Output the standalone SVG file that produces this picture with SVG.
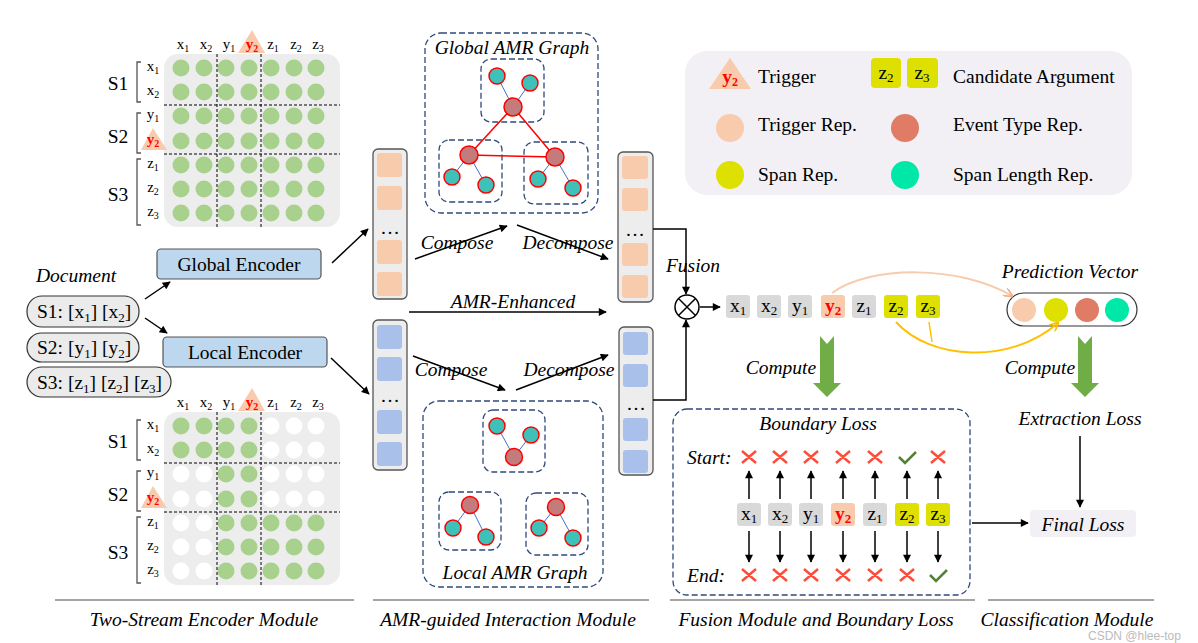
<svg xmlns="http://www.w3.org/2000/svg" width="1198" height="643" viewBox="0 0 1198 643" font-family="'Liberation Serif', 'DejaVu Serif', serif">
<defs>
<style>
text{font-family:'Liberation Serif','DejaVu Serif',serif;fill:#000;font-size:19.5px}
.it{font-style:italic}
.m{text-anchor:middle}
.lb{font-size:15px}
.g{fill:#A9D18E}
.w{fill:#FFFFFF}
.mbg{fill:#EDEDED}
.dash{stroke:#000;stroke-width:1;stroke-dasharray:3 2;fill:none}
.br{fill:none;stroke:#555;stroke-width:1.3}
.col{fill:#EDEDED;stroke:#555;stroke-width:1.3}
.or{fill:#F8CBAD}
.bl{fill:#A9C1EA}
.box{fill:none;stroke:#2F4A7A;stroke-width:1.3;stroke-dasharray:6 3}
.tn{fill:#3EC1B9;stroke:#FF0000;stroke-width:1.5}
.ev{fill:#C47B7B;stroke:#FF0000;stroke-width:1.5}
.re{stroke:#FF0000;stroke-width:1.5}
.be{stroke:#4472C4;stroke-width:1}
.ar{stroke:#000;stroke-width:1.5;fill:none;marker-end:url(#ah)}
.tok{fill:#D9D9D9}
.tokY{fill:#DDE000}
.tokO{fill:#F8CBAD}
.x{stroke:#FF4B3A;stroke-width:2.5;fill:none}
.ck{stroke:#548235;stroke-width:2.5;fill:none}
.tri{fill:#F8CBAD}
.red{fill:#FF0000;font-weight:bold}
.enc{fill:#BDD7EE;stroke:#555;stroke-width:1.2}
.pill{fill:#EBEBEB;stroke:#333;stroke-width:1.2}
.sep{stroke:#888;stroke-width:1.5}
.grn{fill:#70AD47}
</style>
<marker id="ah" viewBox="0 0 10 10" refX="9" refY="5" markerWidth="10" markerHeight="8" orient="auto" markerUnits="userSpaceOnUse"><path d="M0,0 L10,5 L0,10 z" fill="#000"/></marker>
<marker id="ahp" viewBox="0 0 10 10" refX="9" refY="5" markerWidth="10" markerHeight="9" orient="auto" markerUnits="userSpaceOnUse"><path d="M0,0 L10,5 L0,10" fill="none" stroke="#F4B183" stroke-width="2"/></marker>
<marker id="aho" viewBox="0 0 10 10" refX="9" refY="5" markerWidth="10" markerHeight="9" orient="auto" markerUnits="userSpaceOnUse"><path d="M0,0 L10,5 L0,10" fill="none" stroke="#FFC000" stroke-width="2"/></marker>
</defs>
<rect width="1198" height="643" fill="#FFFFFF"/>

<!-- Top matrix -->
<g id="matrix-global">
<rect class="mbg" x="164" y="54" width="176" height="173" rx="14"/>
<g class="g">
<circle cx="181" cy="68" r="8.5"/><circle cx="204" cy="68" r="8.5"/><circle cx="226" cy="68" r="8.5"/><circle cx="249" cy="68" r="8.5"/><circle cx="271" cy="68" r="8.5"/><circle cx="294" cy="68" r="8.5"/><circle cx="316" cy="68" r="8.5"/>
<circle cx="181" cy="92" r="8.5"/><circle cx="204" cy="92" r="8.5"/><circle cx="226" cy="92" r="8.5"/><circle cx="249" cy="92" r="8.5"/><circle cx="271" cy="92" r="8.5"/><circle cx="294" cy="92" r="8.5"/><circle cx="316" cy="92" r="8.5"/>
<circle cx="181" cy="116" r="8.5"/><circle cx="204" cy="116" r="8.5"/><circle cx="226" cy="116" r="8.5"/><circle cx="249" cy="116" r="8.5"/><circle cx="271" cy="116" r="8.5"/><circle cx="294" cy="116" r="8.5"/><circle cx="316" cy="116" r="8.5"/>
<circle cx="181" cy="141" r="8.5"/><circle cx="204" cy="141" r="8.5"/><circle cx="226" cy="141" r="8.5"/><circle cx="249" cy="141" r="8.5"/><circle cx="271" cy="141" r="8.5"/><circle cx="294" cy="141" r="8.5"/><circle cx="316" cy="141" r="8.5"/>
<circle cx="181" cy="165" r="8.5"/><circle cx="204" cy="165" r="8.5"/><circle cx="226" cy="165" r="8.5"/><circle cx="249" cy="165" r="8.5"/><circle cx="271" cy="165" r="8.5"/><circle cx="294" cy="165" r="8.5"/><circle cx="316" cy="165" r="8.5"/>
<circle cx="181" cy="189" r="8.5"/><circle cx="204" cy="189" r="8.5"/><circle cx="226" cy="189" r="8.5"/><circle cx="249" cy="189" r="8.5"/><circle cx="271" cy="189" r="8.5"/><circle cx="294" cy="189" r="8.5"/><circle cx="316" cy="189" r="8.5"/>
<circle cx="181" cy="213" r="8.5"/><circle cx="204" cy="213" r="8.5"/><circle cx="226" cy="213" r="8.5"/><circle cx="249" cy="213" r="8.5"/><circle cx="271" cy="213" r="8.5"/><circle cx="294" cy="213" r="8.5"/><circle cx="316" cy="213" r="8.5"/>
</g>
<path class="dash" d="M217,54 V228 M261,54 V228 M164,105 H340 M164,154 H340"/>
<polygon class="tri" points="238,53 252,30 265,53"/>
<polygon class="tri" points="141,150 153,128 167,150"/>
<text class="m lb" x="183" y="49">x<tspan font-size="10" dy="3">1</tspan></text>
<text class="m lb" x="206" y="49">x<tspan font-size="10" dy="3">2</tspan></text>
<text class="m lb" x="229" y="49">y<tspan font-size="10" dy="3">1</tspan></text>
<text class="m lb red" x="252" y="49">y<tspan font-size="10" dy="3">2</tspan></text>
<text class="m lb" x="273" y="49">z<tspan font-size="10" dy="3">1</tspan></text>
<text class="m lb" x="296" y="49">z<tspan font-size="10" dy="3">2</tspan></text>
<text class="m lb" x="318" y="49">z<tspan font-size="10" dy="3">3</tspan></text>
<text class="m lb" x="153" y="71">x<tspan font-size="10" dy="3">1</tspan></text>
<text class="m lb" x="153" y="95">x<tspan font-size="10" dy="3">2</tspan></text>
<text class="m lb" x="153" y="119">y<tspan font-size="10" dy="3">1</tspan></text>
<text class="m lb red" x="153" y="144">y<tspan font-size="10" dy="3">2</tspan></text>
<text class="m lb" x="153" y="168">z<tspan font-size="10" dy="3">1</tspan></text>
<text class="m lb" x="153" y="192">z<tspan font-size="10" dy="3">2</tspan></text>
<text class="m lb" x="153" y="216">z<tspan font-size="10" dy="3">3</tspan></text>
<path class="br" d="M141,62 H137 V102 H141 M141,113 H137 V153 H141 M141,159 H137 V225 H141"/>
<text class="m" x="118" y="90" font-size="21">S1</text>
<text class="m" x="118" y="143" font-size="21">S2</text>
<text class="m" x="118" y="201" font-size="21">S3</text>
</g>

<!-- Bottom matrix -->
<g id="matrix-local">
<rect class="mbg" x="164" y="412" width="176" height="173" rx="14"/>
<g class="g">
<circle cx="181" cy="426" r="8.5"/><circle cx="204" cy="426" r="8.5"/><circle cx="226" cy="426" r="8.5"/><circle cx="249" cy="426" r="8.5"/>
<circle cx="181" cy="450" r="8.5"/><circle cx="204" cy="450" r="8.5"/><circle cx="226" cy="450" r="8.5"/><circle cx="249" cy="450" r="8.5"/>
<circle cx="226" cy="474" r="8.5"/><circle cx="249" cy="474" r="8.5"/>
<circle cx="226" cy="499" r="8.5"/><circle cx="249" cy="499" r="8.5"/>
<circle cx="226" cy="523" r="8.5"/><circle cx="249" cy="523" r="8.5"/><circle cx="271" cy="523" r="8.5"/><circle cx="294" cy="523" r="8.5"/><circle cx="316" cy="523" r="8.5"/>
<circle cx="226" cy="547" r="8.5"/><circle cx="249" cy="547" r="8.5"/><circle cx="271" cy="547" r="8.5"/><circle cx="294" cy="547" r="8.5"/><circle cx="316" cy="547" r="8.5"/>
<circle cx="226" cy="571" r="8.5"/><circle cx="249" cy="571" r="8.5"/><circle cx="271" cy="571" r="8.5"/><circle cx="294" cy="571" r="8.5"/><circle cx="316" cy="571" r="8.5"/>
</g>
<g class="w">
<circle cx="271" cy="426" r="8.5"/><circle cx="294" cy="426" r="8.5"/><circle cx="316" cy="426" r="8.5"/>
<circle cx="271" cy="450" r="8.5"/><circle cx="294" cy="450" r="8.5"/><circle cx="316" cy="450" r="8.5"/>
<circle cx="181" cy="474" r="8.5"/><circle cx="204" cy="474" r="8.5"/><circle cx="271" cy="474" r="8.5"/><circle cx="294" cy="474" r="8.5"/><circle cx="316" cy="474" r="8.5"/>
<circle cx="181" cy="499" r="8.5"/><circle cx="204" cy="499" r="8.5"/><circle cx="271" cy="499" r="8.5"/><circle cx="294" cy="499" r="8.5"/><circle cx="316" cy="499" r="8.5"/>
<circle cx="181" cy="523" r="8.5"/><circle cx="204" cy="523" r="8.5"/>
<circle cx="181" cy="547" r="8.5"/><circle cx="204" cy="547" r="8.5"/>
<circle cx="181" cy="571" r="8.5"/><circle cx="204" cy="571" r="8.5"/>
</g>
<path class="dash" d="M217,412 V586 M261,412 V586 M164,463 H340 M164,512 H340"/>
<polygon class="tri" points="238,411 252,388 265,411"/>
<polygon class="tri" points="141,508 153,486 167,508"/>
<text class="m lb" x="183" y="407">x<tspan font-size="10" dy="3">1</tspan></text>
<text class="m lb" x="206" y="407">x<tspan font-size="10" dy="3">2</tspan></text>
<text class="m lb" x="229" y="407">y<tspan font-size="10" dy="3">1</tspan></text>
<text class="m lb red" x="252" y="407">y<tspan font-size="10" dy="3">2</tspan></text>
<text class="m lb" x="273" y="407">z<tspan font-size="10" dy="3">1</tspan></text>
<text class="m lb" x="296" y="407">z<tspan font-size="10" dy="3">2</tspan></text>
<text class="m lb" x="318" y="407">z<tspan font-size="10" dy="3">3</tspan></text>
<text class="m lb" x="153" y="429">x<tspan font-size="10" dy="3">1</tspan></text>
<text class="m lb" x="153" y="453">x<tspan font-size="10" dy="3">2</tspan></text>
<text class="m lb" x="153" y="477">y<tspan font-size="10" dy="3">1</tspan></text>
<text class="m lb red" x="153" y="502">y<tspan font-size="10" dy="3">2</tspan></text>
<text class="m lb" x="153" y="526">z<tspan font-size="10" dy="3">1</tspan></text>
<text class="m lb" x="153" y="550">z<tspan font-size="10" dy="3">2</tspan></text>
<text class="m lb" x="153" y="574">z<tspan font-size="10" dy="3">3</tspan></text>
<path class="br" d="M141,420 H137 V460 H141 M141,471 H137 V511 H141 M141,517 H137 V583 H141"/>
<text class="m" x="118" y="448" font-size="21">S1</text>
<text class="m" x="118" y="501" font-size="21">S2</text>
<text class="m" x="118" y="559" font-size="21">S3</text>
</g>

<!-- Document -->
<g id="document">
<text class="it" x="36" y="282">Document</text>
<rect class="pill" x="27" y="296" width="112" height="31" rx="15"/>
<text x="37" y="318">S1: [x<tspan font-size="13" dy="4">1</tspan><tspan dy="-4">] [x</tspan><tspan font-size="13" dy="4">2</tspan><tspan dy="-4">]</tspan></text>
<rect class="pill" x="27" y="333" width="112" height="29" rx="14.5"/>
<text x="37" y="354">S2: [y<tspan font-size="13" dy="4">1</tspan><tspan dy="-4">] [y</tspan><tspan font-size="13" dy="4">2</tspan><tspan dy="-4">]</tspan></text>
<rect class="pill" x="27" y="367" width="144" height="30" rx="15"/>
<text x="37" y="389">S3: [z<tspan font-size="13" dy="4">1</tspan><tspan dy="-4">] [z</tspan><tspan font-size="13" dy="4">2</tspan><tspan dy="-4">] [z</tspan><tspan font-size="13" dy="4">3</tspan><tspan dy="-4">]</tspan></text>
</g>

<g id="global-encoder">
<rect class="enc" x="157" y="249" width="164" height="30" rx="4"/>
<text class="m" x="239" y="271">Global Encoder</text>
</g>
<g id="local-encoder">
<rect class="enc" x="163" y="337" width="164" height="30" rx="4"/>
<text class="m" x="245" y="359">Local Encoder</text>
</g>

<!-- Vector columns -->
<g id="col-global-in">
<rect class="col" x="373" y="149" width="34" height="150" rx="5"/>
<g class="or"><rect x="377" y="153" width="25" height="24" rx="3"/><rect x="377" y="186" width="25" height="24" rx="3"/><rect x="377" y="240" width="25" height="24" rx="3"/><rect x="377" y="272" width="25" height="24" rx="3"/></g>
<text class="m" x="390" y="234">…</text>
</g>
<g id="col-local-in">
<rect class="col" x="373" y="320" width="34" height="150" rx="5"/>
<g class="bl"><rect x="377" y="325" width="25" height="24" rx="3"/><rect x="377" y="357" width="25" height="24" rx="3"/><rect x="377" y="410" width="25" height="24" rx="3"/><rect x="377" y="442" width="25" height="24" rx="3"/></g>
<text class="m" x="390" y="402">…</text>
</g>
<g id="col-global-out">
<rect class="col" x="618" y="152" width="35" height="150" rx="5"/>
<g class="or"><rect x="622" y="156" width="26" height="23" rx="3"/><rect x="622" y="188" width="26" height="23" rx="3"/><rect x="622" y="243" width="26" height="23" rx="3"/><rect x="622" y="275" width="26" height="23" rx="3"/></g>
<text class="m" x="635" y="236">…</text>
</g>
<g id="col-local-out">
<rect class="col" x="619" y="327" width="34" height="148" rx="5"/>
<g class="bl"><rect x="623" y="332" width="25" height="23" rx="3"/><rect x="623" y="364" width="25" height="23" rx="3"/><rect x="623" y="418" width="25" height="23" rx="3"/><rect x="623" y="450" width="25" height="23" rx="3"/></g>
<text class="m" x="636" y="410">…</text>
</g>

<!-- Global AMR graph -->
<g id="global-amr">
<rect class="box" x="425" y="33" width="173" height="180" rx="16"/>
<text class="it m" x="512" y="54">Global AMR Graph</text>
<rect class="box" x="481" y="59" width="63" height="63" rx="10"/>
<rect class="box" x="439" y="140" width="63" height="62" rx="10"/>
<rect class="box" x="524" y="142" width="64" height="62" rx="10"/>
<path class="re" d="M513,107 L469,155 M513,107 L555,157 M469,155 L555,157"/>
<path class="be" d="M513,107 L497,76 M513,107 L530,83 M469,155 L452,177 M469,155 L486,185 M555,157 L538,179 M555,157 L573,188"/>
<circle class="tn" cx="497" cy="76" r="8"/><circle class="tn" cx="530" cy="83" r="8"/><circle class="ev" cx="513" cy="107" r="9"/>
<circle class="ev" cx="469" cy="155" r="9"/><circle class="tn" cx="452" cy="177" r="8"/><circle class="tn" cx="486" cy="185" r="8"/>
<circle class="ev" cx="555" cy="157" r="9"/><circle class="tn" cx="538" cy="179" r="8"/><circle class="tn" cx="573" cy="188" r="8"/>
</g>

<!-- Local AMR graph -->
<g id="local-amr">
<rect class="box" x="423" y="401" width="180" height="186" rx="16"/>
<text class="it m" x="515" y="579">Local AMR Graph</text>
<rect class="box" x="483" y="410" width="62" height="62" rx="10"/>
<rect class="box" x="439" y="492" width="62" height="58" rx="10"/>
<rect class="box" x="526" y="493" width="62" height="62" rx="10"/>
<path class="be" d="M514,457 L497,426 M514,457 L531,435 M470,505 L453,528 M470,505 L486,537 M556,507 L539,528 M556,507 L573,538"/>
<circle class="tn" cx="497" cy="426" r="8"/><circle class="tn" cx="531" cy="435" r="8"/><circle class="ev" cx="514" cy="457" r="8.5"/>
<circle class="ev" cx="470" cy="505" r="8.5"/><circle class="tn" cx="453" cy="528" r="8"/><circle class="tn" cx="486" cy="537" r="8"/>
<circle class="ev" cx="556" cy="507" r="8.5"/><circle class="tn" cx="539" cy="528" r="8"/><circle class="tn" cx="573" cy="538" r="8"/>
</g>

<!-- Fusion -->
<g id="fusion">
<circle cx="687" cy="307" r="12" fill="#FFFFFF" stroke="#000" stroke-width="1.5"/>
<path d="M678.5,298.5 L695.5,315.5 M695.5,298.5 L678.5,315.5" stroke="#000" stroke-width="1.5"/>
<text class="it m" x="693" y="272">Fusion</text>
</g>

<g id="tokens">
<rect class="tok" x="726" y="295" width="24" height="23" rx="3"/><text class="m" x="738" y="312">x<tspan font-size="13" dy="3">1</tspan></text>
<rect class="tok" x="757" y="295" width="24" height="23" rx="3"/><text class="m" x="769" y="312">x<tspan font-size="13" dy="3">2</tspan></text>
<rect class="tok" x="788" y="295" width="24" height="23" rx="3"/><text class="m" x="800" y="312">y<tspan font-size="13" dy="3">1</tspan></text>
<rect class="tokO" x="821" y="295" width="24" height="23" rx="3"/><text class="m red" x="833" y="312">y<tspan font-size="13" dy="3">2</tspan></text>
<rect class="tok" x="852" y="295" width="24" height="23" rx="3"/><text class="m" x="864" y="312">z<tspan font-size="13" dy="3">1</tspan></text>
<rect class="tokY" x="884" y="295" width="24" height="23" rx="3"/><text class="m" x="896" y="312">z<tspan font-size="13" dy="3">2</tspan></text>
<rect class="tokY" x="916" y="295" width="24" height="23" rx="3"/><text class="m" x="928" y="312">z<tspan font-size="13" dy="3">3</tspan></text>
</g>

<g id="prediction-vector">
<text class="it m" x="1070" y="278">Prediction Vector</text>
<rect x="1007" y="293" width="130" height="33" rx="16.5" fill="#FFFFFF" stroke="#333" stroke-width="1.2"/>
<circle cx="1024" cy="310" r="12" fill="#F8CBAD"/>
<circle cx="1056" cy="310" r="12" fill="#DDE000"/>
<circle cx="1087" cy="310" r="12" fill="#E07B65"/>
<circle cx="1117" cy="310" r="12" fill="#00E8A8"/>
</g>

<g id="compute-left">
<path class="grn" d="M820,336 L827,344 L834,336 V383 H841 L827,397 L813,383 H820 Z"/>
<text class="it m" x="781" y="374">Compute</text>
</g>
<g id="compute-right">
<path class="grn" d="M1078,336 L1085,344 L1092,336 V383 H1099 L1085,397 L1071,383 H1078 Z"/>
<text class="it m" x="1040" y="374">Compute</text>
</g>

<!-- Boundary loss -->
<g id="boundary-loss">
<rect class="box" x="673" y="409" width="297" height="186" rx="14"/>
<text class="it m" x="818" y="430">Boundary Loss</text>
<text class="it" x="687" y="464">Start:</text>
<text class="it" x="687" y="582">End:</text>
<rect class="tok" x="737" y="503" width="24" height="23" rx="3"/><text class="m" x="749" y="520">x<tspan font-size="13" dy="3">1</tspan></text>
<rect class="tok" x="768" y="503" width="24" height="23" rx="3"/><text class="m" x="780" y="520">x<tspan font-size="13" dy="3">2</tspan></text>
<rect class="tok" x="799" y="503" width="24" height="23" rx="3"/><text class="m" x="811" y="520">y<tspan font-size="13" dy="3">1</tspan></text>
<rect class="tokO" x="831" y="503" width="24" height="23" rx="3"/><text class="m red" x="843" y="520">y<tspan font-size="13" dy="3">2</tspan></text>
<rect class="tok" x="863" y="503" width="24" height="23" rx="3"/><text class="m" x="875" y="520">z<tspan font-size="13" dy="3">1</tspan></text>
<rect class="tokY" x="895" y="503" width="24" height="23" rx="3"/><text class="m" x="907" y="520">z<tspan font-size="13" dy="3">2</tspan></text>
<rect class="tokY" x="926" y="503" width="24" height="23" rx="3"/><text class="m" x="938" y="520">z<tspan font-size="13" dy="3">3</tspan></text>
<path class="x" d="M742,451 L756,463 M756,451 L742,463 M773,451 L787,463 M787,451 L773,463 M804,451 L818,463 M818,451 L804,463 M836,451 L850,463 M850,451 L836,463 M868,451 L882,463 M882,451 L868,463 M931,451 L945,463 M945,451 L931,463"/>
<path class="ck" d="M899,457 L905,463 L916,452"/>
<path class="x" d="M742,569 L756,581 M756,569 L742,581 M773,569 L787,581 M787,569 L773,581 M804,569 L818,581 M818,569 L804,581 M836,569 L850,581 M850,569 L836,581 M868,569 L882,581 M882,569 L868,581 M900,569 L914,581 M914,569 L900,581"/>
<path class="ck" d="M930,575 L936,581 L947,570"/>
</g>

<g id="extraction-loss">
<text class="it m" x="1080" y="425">Extraction Loss</text>
</g>
<g id="final-loss">
<rect x="1030" y="510" width="106" height="27" rx="4" fill="#F2F0F5"/>
<text class="it m" x="1083" y="531">Final Loss</text>
</g>

<!-- Legend -->
<g id="legend">
<rect x="685" y="51" width="447" height="144" rx="22" fill="#F2F0F5"/>
<polygon class="tri" points="709,89 730,58 751,89"/>
<text class="m red" x="730" y="83" font-size="17">y<tspan font-size="12" dy="3">2</tspan></text>
<text x="758" y="83">Trigger</text>
<rect class="tokY" x="871" y="58" width="30" height="30" rx="4"/><text class="m" x="886" y="79">z<tspan font-size="13" dy="3">2</tspan></text>
<rect class="tokY" x="907" y="58" width="31" height="30" rx="4"/><text class="m" x="922" y="79">z<tspan font-size="13" dy="3">3</tspan></text>
<text x="953" y="83">Candidate Argument</text>
<circle cx="730" cy="128" r="14" fill="#F8CBAD"/>
<text x="758" y="131">Trigger Rep.</text>
<circle cx="905" cy="128" r="14" fill="#E07B65"/>
<text x="953" y="131">Event Type Rep.</text>
<circle cx="730" cy="175" r="14" fill="#DDE000"/>
<text x="758" y="181">Span Rep.</text>
<circle cx="905" cy="175" r="14" fill="#00E8A8"/>
<text x="953" y="181">Span Length Rep.</text>
</g>

<!-- Connectors -->
<g id="connectors">
<line class="ar" x1="145" y1="299" x2="170" y2="282"/>
<line class="ar" x1="145" y1="318" x2="167" y2="333"/>
<line class="ar" x1="332" y1="263" x2="368" y2="229"/>
<line class="ar" x1="331" y1="358" x2="369" y2="394"/>
<line class="ar" x1="415" y1="259" x2="507" y2="226"/>
<line class="ar" x1="517" y1="225" x2="608" y2="259"/>
<line class="ar" x1="409" y1="312" x2="606" y2="312"/>
<line class="ar" x1="413" y1="356" x2="505" y2="390"/>
<line class="ar" x1="516" y1="390" x2="608" y2="355"/>
<path class="ar" d="M653,229 H686 V294"/>
<path class="ar" d="M653,400 H686 V320"/>
<line class="ar" x1="700" y1="307" x2="720" y2="307"/>
<path d="M832,293 C870,265 960,265 1012,296" fill="none" stroke="#F8CBAD" stroke-width="2" marker-end="url(#ahp)"/>
<path d="M896,322 C930,360 1010,365 1058,323" fill="none" stroke="#FFC000" stroke-width="2" marker-end="url(#aho)"/>
<path d="M929,322 L932,342" fill="none" stroke="#FFC000" stroke-width="1.5"/>
<line class="ar" x1="749" y1="499" x2="749" y2="471"/><line class="ar" x1="780" y1="499" x2="780" y2="471"/><line class="ar" x1="811" y1="499" x2="811" y2="471"/><line class="ar" x1="843" y1="499" x2="843" y2="471"/><line class="ar" x1="875" y1="499" x2="875" y2="471"/><line class="ar" x1="907" y1="499" x2="907" y2="471"/><line class="ar" x1="938" y1="499" x2="938" y2="471"/>
<line class="ar" x1="749" y1="531" x2="749" y2="562"/><line class="ar" x1="780" y1="531" x2="780" y2="562"/><line class="ar" x1="811" y1="531" x2="811" y2="562"/><line class="ar" x1="843" y1="531" x2="843" y2="562"/><line class="ar" x1="875" y1="531" x2="875" y2="562"/><line class="ar" x1="907" y1="531" x2="907" y2="562"/><line class="ar" x1="938" y1="531" x2="938" y2="562"/>
<line class="ar" x1="972" y1="523" x2="1028" y2="523"/>
<line class="ar" x1="1080" y1="436" x2="1080" y2="507"/>
<text class="it m" x="457" y="249">Compose</text>
<text class="it m" x="568" y="249">Decompose</text>
<text class="it m" x="513" y="308">AMR-Enhanced</text>
<text class="it m" x="451" y="376">Compose</text>
<text class="it m" x="569" y="376">Decompose</text>
</g>

<!-- Section labels -->
<g id="sections">
<path class="sep" d="M55,600 H354 M373,600 H649 M670,600 H975 M988,600 H1154"/>
<text class="it m" x="204" y="626">Two-Stream Encoder Module</text>
<text class="it m" x="508" y="626">AMR-guided Interaction Module</text>
<text class="it m" x="816" y="626">Fusion Module and Boundary Loss</text>
<text class="it m" x="1067" y="626">Classification Module</text>
</g>
<text x="1088" y="640" style="font-family:'Liberation Sans',sans-serif;font-size:12px;fill:#BBBBBB">CSDN @hlee-top</text>
</svg>
